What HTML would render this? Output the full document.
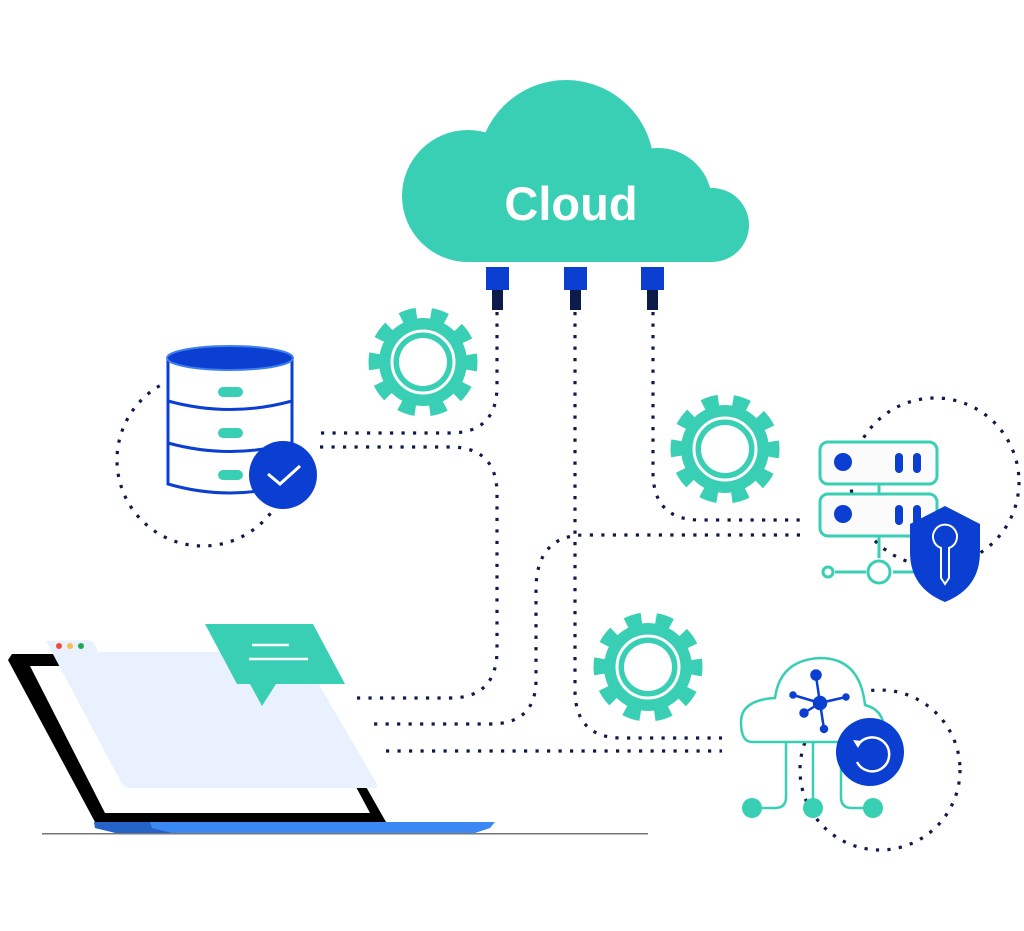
<!DOCTYPE html>
<html><head><meta charset="utf-8"><style>html,body{margin:0;padding:0;background:#fff;}svg{display:block}</style></head>
<body>
<svg width="1024" height="931" viewBox="0 0 1024 931" xmlns="http://www.w3.org/2000/svg">
<defs>
<g id="gear">
 <circle r="44" fill="#39cfb4"/>
 <circle r="47" fill="none" stroke="#39cfb4" stroke-width="15" stroke-dasharray="15.5 14.03" transform="rotate(-9)"/>
 <circle r="31" fill="none" stroke="#fff" stroke-width="3"/>
 <circle r="24" fill="#fff"/>
</g>
</defs>
<g fill="none" stroke="#0d1b4b" stroke-width="3.2" stroke-dasharray="3.2 8.3">
 <circle cx="203" cy="460" r="86"/>
 <circle cx="935" cy="482" r="84"/>
 <circle cx="880" cy="770" r="80"/>
 <path d="M497 312 V386 Q497 433 450 433 H320"/>
 <path d="M320 447 H450 Q497 447 497 494 V650 Q497 698 450 698 H357"/>
 <path d="M575 312 V690 Q575 738 622 738 H722"/>
 <path d="M800 535 H585 Q536 535 536 590 V680 Q536 724 490 724 H373"/>
 <path d="M653 312 V472 Q653 520 700 520 H800"/>
 <path d="M386 751 H722"/>
</g>
<circle cx="283" cy="475" r="36" fill="#fff"/>
<g fill="#39cfb4">
 <circle cx="566" cy="168" r="88"/>
 <circle cx="468" cy="196" r="66"/>
 <circle cx="658" cy="202" r="54"/>
 <circle cx="712" cy="225" r="37"/>
 <rect x="466" y="190" width="246" height="72"/>
</g>
<text x="571" y="220" font-family="Liberation Sans, sans-serif" font-weight="bold" font-size="47" fill="#fff" text-anchor="middle">Cloud</text>
<g>
 <rect x="486" y="267" width="23" height="23" fill="#0b3fd1"/><rect x="492" y="290" width="11" height="20" fill="#0d1b4b"/>
 <rect x="564" y="267" width="23" height="23" fill="#0b3fd1"/><rect x="570" y="290" width="11" height="20" fill="#0d1b4b"/>
 <rect x="641" y="267" width="23" height="23" fill="#0b3fd1"/><rect x="647" y="290" width="11" height="20" fill="#0d1b4b"/>
</g>
<use href="#gear" x="423" y="362"/>
<use href="#gear" x="725" y="449"/>
<use href="#gear" x="648" y="667"/>
<g stroke="#0b3fd1" stroke-width="3" fill="#fff">
 <path d="M168 358 V484 Q230 502 292 484 V358"/>
 <path d="M168 401 Q230 418 292 401" fill="none"/>
 <path d="M168 443 Q230 460 292 443" fill="none"/>
</g>
<ellipse cx="230" cy="358" rx="63" ry="12" fill="#0b3fd1" stroke="#3f7ff0" stroke-width="2"/>
<g fill="#39cfb4">
 <rect x="218" y="387" width="25" height="10" rx="5"/>
 <rect x="218" y="428" width="25" height="10" rx="5"/>
 <rect x="218" y="470" width="25" height="10" rx="5"/>
</g>
<circle cx="283" cy="475" r="34" fill="#0b3fd1"/>
<path d="M268 474 L280 484 L300 466" fill="none" stroke="#fff" stroke-width="3"/>
<g stroke="#39cfb4" stroke-width="3" fill="#fbfbfb">
 <rect x="820" y="442" width="117" height="42" rx="8"/>
 <rect x="820" y="494" width="117" height="42" rx="8"/>
 <path d="M879 484 V494 M879 536 V558 M835 572 H866 M893 572 H915" fill="none"/>
 <circle cx="879" cy="572" r="11" fill="#fff"/>
 <circle cx="828" cy="572" r="5" fill="#fff"/>
</g>
<g fill="#0b3fd1">
 <circle cx="843" cy="462" r="9"/><circle cx="843" cy="514" r="9"/>
 <rect x="895" y="453" width="8" height="20" rx="4"/><rect x="913" y="453" width="8" height="20" rx="4"/>
 <rect x="895" y="505" width="8" height="20" rx="4"/><rect x="913" y="505" width="8" height="20" rx="4"/>
 <path d="M910 524 L945 506 L980 524 V552 Q980 588 945 602 Q910 588 910 552 Z"/>
</g>
<path d="M941 548 A12 12 0 1 1 949 548 V578 L945 584 L941 578 Z" fill="none" stroke="#fff" stroke-width="2"/>
<path d="M752 742 Q741 742 741 722 Q741 700 775 698 Q780 660 820 658 Q860 658 865 705 Q884 710 884 730 Q884 742 870 742 Z" fill="#fff" stroke="#39cfb4" stroke-width="2.5"/>
<g stroke="#39cfb4" stroke-width="2.5" fill="none">
 <path d="M786 742 V797 Q786 808 775 808 H752"/>
 <path d="M813 742 V808"/>
 <path d="M841 742 V797 Q841 808 852 808 H873"/>
</g>
<g fill="#39cfb4"><circle cx="752" cy="808" r="10"/><circle cx="813" cy="808" r="10"/><circle cx="873" cy="808" r="10"/></g>
<g stroke="#0b3fd1" stroke-width="2.5" fill="#0b3fd1">
 <path d="M820 703 L816 676 M820 703 L793 695 M820 703 L846 697 M820 703 L804 713 M820 703 L824 729"/>
 <circle cx="820" cy="703" r="6"/><circle cx="816" cy="675" r="4.5"/><circle cx="793" cy="695" r="2.5"/>
 <circle cx="846" cy="697" r="2.5"/><circle cx="804" cy="713" r="3.5"/><circle cx="824" cy="729" r="3"/>
</g>
<circle cx="870" cy="752" r="34" fill="#0b3fd1"/>
<path d="M858 745 A17 17 0 1 1 857 762" fill="none" stroke="#fff" stroke-width="2.5"/>
<path d="M853 740 L862 741 L858 748 Z" fill="#fff"/>
<path d="M8 660 L12 654 L180 654 L190 666 L30 666 L105 813 L370 813 L355 785 L365 785 L386 822 L95 822 Z" fill="#000"/>
<path d="M46 641 L88 640 Q92 640 95 645 L98 652 L300 652 L377 784 Q378 788 373 788 L130 788 Q124 788 121 782 Z" fill="#eaf1fe"/>
<circle cx="59" cy="646" r="3" fill="#f04a3a"/><circle cx="70" cy="646" r="3" fill="#f7c04a"/><circle cx="81" cy="646" r="3" fill="#1fa855"/>
<path d="M94 822 H495 L490 828 L472 834 H120 L95 828 Z" fill="#3b88f5"/>
<path d="M94 822 H150 L152 828 L176 834 H120 L95 828 Z" fill="#2563c8"/>
<rect x="42" y="833" width="606" height="1.5" fill="#777"/>
<path d="M205 624 H313 L345 684 H276 L262 706 L250 684 H237 Z" fill="#39cfb4"/>
<path d="M252 645 H289 M249 659 H308" stroke="#fff" stroke-width="2.5"/>
</svg>
</body></html>
